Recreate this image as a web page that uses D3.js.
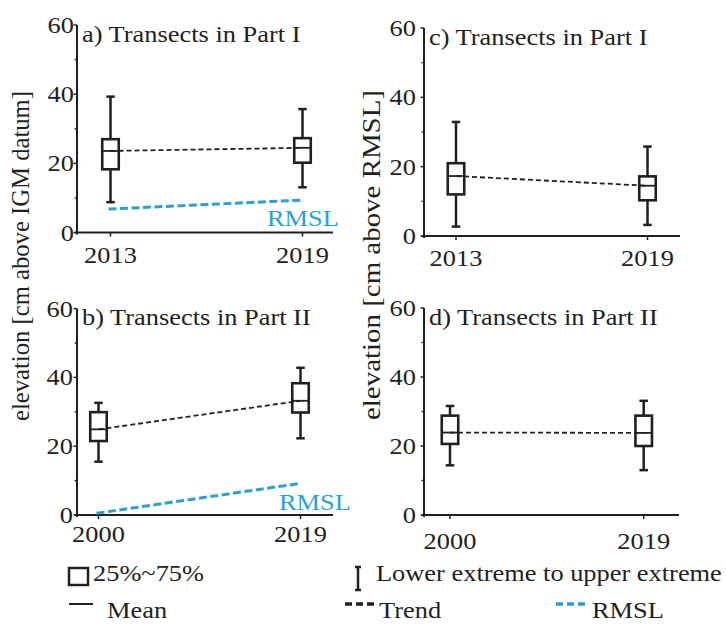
<!DOCTYPE html>
<html>
<head>
<meta charset="utf-8">
<script src="https://cdn.jsdelivr.net/npm/d3@7"></script>
<style>
  html, body { margin: 0; padding: 0; background: #ffffff; }
  svg { display: block; }
  text { font-family: "Liberation Serif", "Times New Roman", serif; fill: #231f20; }
</style>
</head>
<body>
<svg id="chart" width="726" height="624"></svg>
<script>
// ---- data -------------------------------------------------------------
const yearsPartI  = ["2013", "2019"];
const yearsPartII = ["2000", "2019"];

// box statistics per year: [lower extreme, 25%, mean, 75%, upper extreme]
const statsA = [[8.8, 18.3, 23.6, 27.0, 39.3], [13.1, 20.2, 24.5, 27.3, 35.7]]; // IGM datum, Part I
const statsB = [[15.5, 21.5, 24.9, 29.9, 32.6], [22.3, 29.8, 33.2, 38.3, 42.8]]; // IGM datum, Part II
const statsC = [[2.7, 12.0, 17.3, 21.0, 32.9], [3.2, 10.3, 14.5, 17.2, 25.8]];  // above RMSL, Part I
const statsD = [[14.4, 20.6, 23.9, 28.8, 31.6], [13.0, 20.0, 23.8, 28.8, 33.1]]; // above RMSL, Part II

// relative mean sea level (cm above IGM datum)
const rmslA = [6.8, 9.4];
const rmslB = [0.5, 9.2];

const yMajorTicks = [0, 20, 40, 60];
const yMinorTicks = [10, 30, 50];

const titles = ["a) Transects in Part I", "b) Transects in Part II",
                "c) Transects in Part I", "d) Transects in Part II"];

// ---- layout ------------------------------------------------------------
const INK = "#231f20";
const BLUE = "#2aa0d6";
const SX = 1.1; // horizontal stretch of set text

const panels = [
  { title: titles[0], years: yearsPartI,  stats: statsA, rmsl: rmslA,
    left: 77,  right: 333, top: 25,  bottom: 232.6, cats: [110.5, 302.5],
    labGap: 3, xLabDy: 30, rmslLabel: [267, 226] },
  { title: titles[1], years: yearsPartII, stats: statsB, rmsl: rmslB,
    left: 77,  right: 333, top: 308.6, bottom: 515, cats: [98.5, 300.5],
    labGap: 4, xLabDy: 27, rmslLabel: [279, 510] },
  { title: titles[2], years: yearsPartI,  stats: statsC, rmsl: null,
    left: 424, right: 680, top: 28,  bottom: 236, cats: [456, 647.5],
    labGap: 8, xLabDy: 30 },
  { title: titles[3], years: yearsPartII, stats: statsD, rmsl: null,
    left: 424, right: 679, top: 308, bottom: 515, cats: [450, 643.7],
    labGap: 8, xLabDy: 34 }
];

const svg = d3.select("#chart");

function stext(parent, x, y, str, anchor, size) {
  const g = parent.append("g").attr("transform", `translate(${x},${y}) scale(${SX},1)`);
  return g.append("text")
    .attr("text-anchor", anchor || "start")
    .attr("font-size", size || 24)
    .text(str);
}

panels.forEach(p => {
  const g = svg.append("g");
  const y = d3.scaleLinear().domain([0, 60]).range([p.bottom, p.top]);
  const x = d3.scalePoint().domain(p.years).range(p.cats);

  // axes
  g.append("line").attr("x1", p.left).attr("x2", p.left)
    .attr("y1", p.bottom + 2).attr("y2", y(60))
    .attr("stroke", INK).attr("stroke-width", 2);
  g.append("line").attr("x1", p.left - 2).attr("x2", p.right)
    .attr("y1", p.bottom).attr("y2", p.bottom)
    .attr("stroke", INK).attr("stroke-width", 2);

  yMajorTicks.forEach(t => {
    g.append("line").attr("x1", p.left - 3.5).attr("x2", p.left)
      .attr("y1", y(t)).attr("y2", y(t)).attr("stroke", INK).attr("stroke-width", 1.5);
    stext(g, p.left - p.labGap, y(t) + 8, String(t), "end");
  });
  yMinorTicks.forEach(t => {
    g.append("line").attr("x1", p.left - 2.5).attr("x2", p.left)
      .attr("y1", y(t)).attr("y2", y(t)).attr("stroke", INK).attr("stroke-width", 1.3);
  });
  p.years.forEach(yr => {
    g.append("line").attr("x1", x(yr)).attr("x2", x(yr))
      .attr("y1", p.bottom).attr("y2", p.bottom + 4)
      .attr("stroke", INK).attr("stroke-width", 1.5);
    stext(g, x(yr), p.bottom + p.xLabDy, yr, "middle");
  });

  // panel title
  stext(g, p.left + 5, y(60) + 16.5, p.title, "start");

  // RMSL line (drawn under the boxes)
  if (p.rmsl) {
    g.append("line")
      .attr("x1", x(p.years[0]) - 2).attr("y1", y(p.rmsl[0]))
      .attr("x2", x(p.years[1])).attr("y2", y(p.rmsl[1]))
      .attr("stroke", BLUE).attr("stroke-width", 3)
      .attr("stroke-dasharray", "8,3.5");
    stext(g, p.rmslLabel[0], p.rmslLabel[1], "RMSL", "start").style("fill", BLUE);
  }

  // trend between means
  g.append("line")
    .attr("x1", x(p.years[0])).attr("y1", y(p.stats[0][2]))
    .attr("x2", x(p.years[1])).attr("y2", y(p.stats[1][2]))
    .attr("stroke", INK).attr("stroke-width", 1.8)
    .attr("stroke-dasharray", "5,3");

  // boxes
  const bw = 16.5, cap = 8.5;
  p.years.forEach((yr, i) => {
    const [lo, q1, mean, q3, hi] = p.stats[i];
    const cx = x(yr);
    const bg = g.append("g").attr("stroke", INK).attr("fill", "none");
    bg.append("line").attr("x1", cx).attr("x2", cx).attr("y1", y(hi)).attr("y2", y(q3)).attr("stroke-width", 2.5);
    bg.append("line").attr("x1", cx).attr("x2", cx).attr("y1", y(q1)).attr("y2", y(lo)).attr("stroke-width", 2.5);
    bg.append("line").attr("x1", cx - cap / 2).attr("x2", cx + cap / 2).attr("y1", y(hi)).attr("y2", y(hi)).attr("stroke-width", 2.5);
    bg.append("line").attr("x1", cx - cap / 2).attr("x2", cx + cap / 2).attr("y1", y(lo)).attr("y2", y(lo)).attr("stroke-width", 2.5);
    bg.append("rect").attr("x", cx - bw / 2).attr("width", bw)
      .attr("y", y(q3)).attr("height", y(q1) - y(q3)).attr("stroke-width", 2.6);
    bg.append("line").attr("x1", cx - bw / 2).attr("x2", cx + bw / 2)
      .attr("y1", y(mean)).attr("y2", y(mean)).attr("stroke-width", 1.8);
  });
});

// shared y-axis titles
svg.append("text")
  .attr("transform", "translate(29,256) rotate(-90)")
  .attr("text-anchor", "middle").attr("font-size", 24.5)
  .attr("textLength", 330).attr("lengthAdjust", "spacingAndGlyphs")
  .text("elevation [cm above IGM datum]");
svg.append("text")
  .attr("transform", "translate(380,255) rotate(-90)")
  .attr("text-anchor", "middle").attr("font-size", 24.5)
  .attr("textLength", 330).attr("lengthAdjust", "spacingAndGlyphs")
  .text("elevation [cm above RMSL]");

// ---- legend ------------------------------------------------------------
const lg = svg.append("g");
lg.append("rect").attr("x", 69).attr("y", 568).attr("width", 19).attr("height", 17)
  .attr("fill", "none").attr("stroke", INK).attr("stroke-width", 2.5);
stext(lg, 93, 581, "25%~75%");

lg.append("line").attr("x1", 69).attr("x2", 93).attr("y1", 604).attr("y2", 604)
  .attr("stroke", INK).attr("stroke-width", 2);
stext(lg, 107, 618, "Mean");

lg.append("line").attr("x1", 358).attr("x2", 358).attr("y1", 567).attr("y2", 590)
  .attr("stroke", INK).attr("stroke-width", 2.5);
lg.append("line").attr("x1", 355).attr("x2", 361).attr("y1", 567).attr("y2", 567)
  .attr("stroke", INK).attr("stroke-width", 2.5);
lg.append("line").attr("x1", 355).attr("x2", 361).attr("y1", 590).attr("y2", 590)
  .attr("stroke", INK).attr("stroke-width", 2.5);
stext(lg, 376, 581, "Lower extreme to upper extreme");

lg.append("line").attr("x1", 345).attr("x2", 378).attr("y1", 604).attr("y2", 604)
  .attr("stroke", INK).attr("stroke-width", 3.5).attr("stroke-dasharray", "7,4");
stext(lg, 379, 618, "Trend");

lg.append("line").attr("x1", 556).attr("x2", 589).attr("y1", 604).attr("y2", 604)
  .attr("stroke", BLUE).attr("stroke-width", 3.5).attr("stroke-dasharray", "7,4");
stext(lg, 592, 618, "RMSL");
</script>
</body>
</html>
